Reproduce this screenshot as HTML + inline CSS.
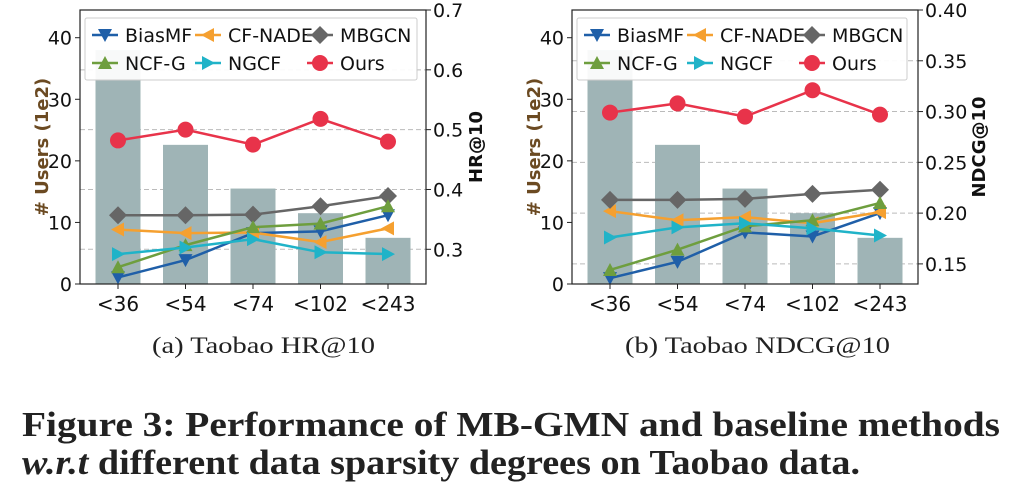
<!DOCTYPE html>
<html><head><meta charset="utf-8"><style>
html,body{margin:0;padding:0;background:#fff;width:1022px;height:486px;overflow:hidden}
svg{display:block}
.t{font-family:"DejaVu Sans","Liberation Sans",sans-serif;font-size:19px;fill:#111}
.cap{font-family:"Liberation Serif",serif;font-size:23px;fill:#222}
.fig{font-family:"Liberation Serif",serif;font-size:35px;font-weight:bold;fill:#222}
</style></head><body>
<svg id="root" width="1022" height="486">
<text class="cap" x="152" y="353" textLength="223" lengthAdjust="spacingAndGlyphs">(a)  Taobao HR@10</text>
<text class="cap" x="625" y="353" textLength="265" lengthAdjust="spacingAndGlyphs">(b)  Taobao NDCG@10</text>
<text class="fig" x="22" y="436" textLength="978" lengthAdjust="spacingAndGlyphs">Figure 3: Performance of MB-GMN and baseline methods</text>
<text class="fig" x="22" y="474" textLength="838" lengthAdjust="spacingAndGlyphs"><tspan font-style="italic">w.r.t</tspan> different data sparsity degrees on Taobao data.</text>
</svg>
<script>
const categories=["<36","<54","<74","<102","<243"];
const users=[38,22.6,15.5,11.5,7.5];
const seriesNames=["BiasMF","CF-NADE","MBGCN","NCF-G","NGCF","Ours"];
const hrBiasMF=[0.253,0.282,0.327,0.33,0.357];
const hrCFNADE=[0.333,0.327,0.328,0.312,0.335];
const hrMBGCN=[0.357,0.357,0.358,0.372,0.389];
const hrNCFG=[0.27,0.307,0.337,0.343,0.372];
const hrNGCF=[0.292,0.303,0.317,0.295,0.292];
const hrOurs=[0.482,0.5,0.475,0.518,0.48];
const ndBiasMF=[0.136,0.152,0.181,0.177,0.2];
const ndCFNADE=[0.202,0.193,0.196,0.19,0.201];
const ndMBGCN=[0.213,0.213,0.214,0.219,0.223];
const ndNCFG=[0.144,0.164,0.187,0.193,0.21];
const ndNGCF=[0.176,0.186,0.19,0.185,0.178];
const ndOurs=[0.299,0.308,0.295,0.321,0.297];
const leftTicks=[0,10,20,30,40];
const hrTicks=["0.3","0.4","0.5","0.6","0.7"];
const ndTicks=["0.15","0.20","0.25","0.30","0.35","0.40"];
const colors=["#1f5fa8","#f5a030","#666666","#6e9e3e","#20b3c8","#e8334a"];
const NS="http://www.w3.org/2000/svg";
const root=document.getElementById('root');
function mk(tag,attrs,parent){const e=document.createElementNS(NS,tag);for(const k in attrs)e.setAttribute(k,attrs[k]);(parent||root).appendChild(e);return e;}
function marker(g,type,x,y,c){
  let e;
  if(type==="v") e=mk('polygon',{points:`${x-7},${y-6} ${x+7},${y-6} ${x},${y+7}`,fill:c},g);
  else if(type==="<") e=mk('polygon',{points:`${x-7},${y} ${x+6},${y-7} ${x+6},${y+7}`,fill:c},g);
  else if(type==="D") e=mk('polygon',{points:`${x},${y-9} ${x+9},${y} ${x},${y+9} ${x-9},${y}`,fill:c},g);
  else if(type==="^") e=mk('polygon',{points:`${x-7},${y+6} ${x+7},${y+6} ${x},${y-7}`,fill:c},g);
  else if(type===">") e=mk('polygon',{points:`${x+7},${y} ${x-6},${y-7} ${x-6},${y+7}`,fill:c},g);
  else e=mk('circle',{cx:x,cy:y,r:8,fill:c},g);
  return e;
}
const mtypes=["v","<","D","^",">","o"];
function chart(opt){
  const g=mk('g',{});
  
  
  const L=opt.x0,R=opt.x1,T=10,B=284;
  const yl=v=>B-(v/44.5)*(B-T);
  const yr=v=>B-(v-opt.rmin)/(opt.rmax-opt.rmin)*(B-T);
  const xs=i=>L+38+i*67.5;
  opt.rt.forEach(t=>{const y=yr(parseFloat(t));if(y>T+2&&y<B){const l=mk('line',{x1:L,x2:R,y1:y,y2:y,stroke:'#bbb','stroke-dasharray':'5,3','stroke-width':1},g);}});
  users.forEach((u,i)=>{const r=mk('rect',{x:xs(i)-22.5,y:yl(u),width:45,height:B-yl(u),fill:'#9fb4b6'},g);});
  opt.series.forEach((s,k)=>{
    const sg=mk('g',{},g);
    
    
    mk('polyline',{points:s.map((v,i)=>xs(i)+','+yr(v)).join(' '),fill:'none',stroke:colors[k],'stroke-width':2.5},sg);
    s.forEach((v,i)=>marker(sg,mtypes[k],xs(i),yr(v),colors[k]));
  });
  mk('rect',{x:L,y:T,width:R-L,height:B-T,fill:'none',stroke:'#222','stroke-width':1.2},g);
  leftTicks.forEach(t=>{const y=yl(t);mk('line',{x1:L-5,x2:L,y1:y,y2:y,stroke:'#222'},g);const tx=mk('text',{class:'t',x:L-8,y:y+7},g);tx.setAttribute('text-anchor','end');tx.textContent=t;});
  opt.rt.forEach(t=>{const y=yr(parseFloat(t));mk('line',{x1:R,x2:R+5,y1:y,y2:y,stroke:'#222'},g);const tx=mk('text',{class:'t',x:R+7,y:y+7},g);tx.textContent=t;});
  categories.forEach((c,i)=>{const x=xs(i);mk('line',{x1:x,x2:x,y1:B,y2:B+5,stroke:'#222'},g);const tx=mk('text',{class:'t',x:x,y:B+27,'text-anchor':'middle',style:'font-size:20px'},g);tx.textContent=c;});
  const yt=mk('text',{class:'t',transform:`translate(${L-32},147) rotate(-90)`,'text-anchor':'middle','font-weight':'bold',style:'fill:#6b4a22;font-size:18px'},g);
  yt.textContent='# Users (1e2)';
  
  
  const rt=mk('text',{class:'t',transform:`translate(${opt.rtx},147) rotate(-90)`,'text-anchor':'middle','font-weight':'bold',style:'font-size:18px'},g);
  rt.textContent=opt.rlabel;
  
  
  const lg=mk('g',{},g);
  
  
  mk('rect',{x:L+5,y:18,width:opt.lw,height:62,fill:'#fff','fill-opacity':0.92,stroke:'#ccc',rx:2},lg);
  const cx=[L+12,L+115,L+227];
  seriesNames.forEach((n,k)=>{
    const col=k<3?k:k-3,row=k<3?0:1;
    const x=cx[col],y=35+row*28;
    const e=mk('g',{},lg);
    
    
    mk('line',{x1:x,x2:x+26,y1:y,y2:y,stroke:colors[k],'stroke-width':2.5},e);
    marker(e,mtypes[k],x+13,y,colors[k]);
    const t=mk('text',{class:'t',x:x+33,y:y+7},e);t.textContent=n;
  });
}
chart({name:'chart-hr',x0:80,x1:426,rmin:0.242,rmax:0.7,rt:hrTicks,rlabel:'HR@10',rtx:482,lw:332,series:[hrBiasMF,hrCFNADE,hrMBGCN,hrNCFG,hrNGCF,hrOurs]});
chart({name:'chart-ndcg',x0:572,x1:918,rmin:0.1302,rmax:0.4,rt:ndTicks,rlabel:'NDCG@10',rtx:985,lw:330,series:[ndBiasMF,ndCFNADE,ndMBGCN,ndNCFG,ndNGCF,ndOurs]});
</script>
</body></html>
